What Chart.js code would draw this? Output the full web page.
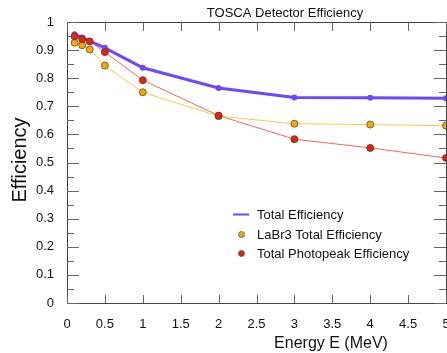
<!DOCTYPE html>
<html>
<head>
<meta charset="utf-8">
<script src="https://cdn.jsdelivr.net/npm/chart.js@4.4.1/dist/chart.umd.min.js"></script>
<style>
    html, body { margin: 0; padding: 0; background: #fff; overflow: hidden; }
    #effchart { display: block; }
</style>
</head>
<body>
<canvas id="effchart" width="447" height="353"></canvas>
<script>
"use strict";

/* data */
var energies = [0.1, 0.2, 0.3, 0.5, 1, 2, 3, 4, 5];
var totalEff = [0.956, 0.945, 0.932, 0.908, 0.837, 0.765, 0.731, 0.730, 0.729];
var labr3Eff = [0.926, 0.917, 0.902, 0.845, 0.750, 0.665, 0.638, 0.635, 0.631];
var photoEff = [0.949, 0.939, 0.931, 0.893, 0.793, 0.667, 0.583, 0.552, 0.516];
var seriesNames = ['Total Efficiency', 'LaBr3 Total Efficiency', 'Total Photopeak Efficiency'];

function toPoints(xs, ys) {
    return xs.map(function (x, i) { return { x: x, y: ys[i] }; });
}

function plainNumber(value) {
    return String(Number(value.toFixed(2)));
}

var FONT = 'Liberation Sans, Arial, sans-serif';

/* frame, inward ticks, titles and legend */
var decorations = {
    id: 'decorations',
    afterDraw: function (chart) {
        var ctx = chart.ctx;
        var a = chart.chartArea;
        var xs = chart.scales.x, ys = chart.scales.y;
        ctx.save();
        ctx.strokeStyle = '#444';
        ctx.lineWidth = 1;
        ctx.strokeRect(a.left + 0.5, a.top + 0.5, a.right - a.left, a.bottom - a.top);

        ctx.strokeStyle = '#666';
        ctx.beginPath();
        // x ticks every 0.5, bottom and top
        for (var v = 0; v <= 5.0001; v += 0.5) {
            var px = Math.round(xs.getPixelForValue(v)) + 0.5;
            ctx.moveTo(px, a.bottom); ctx.lineTo(px, a.bottom - 8);
            ctx.moveTo(px, a.top); ctx.lineTo(px, a.top + 9);
        }
        // y ticks: major 0.1, minor 0.05, left and right
        for (var k = 0; k <= 20; k++) {
            var py = Math.round(ys.getPixelForValue(k * 0.05)) + 0.5;
            var len = (k % 2 === 0) ? 12 : 7;
            ctx.moveTo(a.left, py); ctx.lineTo(a.left + len, py);
            ctx.moveTo(a.right, py); ctx.lineTo(a.right - len, py);
        }
        ctx.stroke();

        // titles
        ctx.fillStyle = '#111';
        ctx.textAlign = 'center';
        ctx.textBaseline = 'middle';
        ctx.font = '13px ' + FONT;
        ctx.fillText('TOSCA Detector Efficiency', 285, 13);
        ctx.font = '16px ' + FONT;
        ctx.fillText('Energy E (MeV)', 331, 344);
        ctx.save();
        ctx.translate(20, 160);
        ctx.rotate(-Math.PI / 2);
        ctx.font = '20px ' + FONT;
        ctx.fillText('Efficiency', 0, 0);
        ctx.restore();

        // legend
        var rows = [214, 234, 253];
        ctx.textAlign = 'left';
        ctx.font = '13px ' + FONT;
        chart.data.datasets.forEach(function (ds, i) {
            var y = rows[i];
            if (i === 0) {
                ctx.strokeStyle = ds.borderColor;
                ctx.lineWidth = 2;
                ctx.beginPath();
                ctx.moveTo(233, y + 0.5); ctx.lineTo(249, y + 0.5);
                ctx.stroke();
            } else {
                ctx.fillStyle = ds.pointBackgroundColor;
                ctx.strokeStyle = '#555';
                ctx.lineWidth = 0.8;
                ctx.beginPath();
                ctx.arc(241.5, y + 0.5, 3, 0, Math.PI * 2);
                ctx.fill(); ctx.stroke();
            }
            ctx.fillStyle = '#111';
            ctx.fillText(ds.label, 257, y + 1);
        });
        ctx.restore();
    }
};

var effchart = document.getElementById('effchart').getContext('2d');

var effchartConfig = {
    type: 'line',
    data: {
        datasets: [{
            label: seriesNames[0],
            data: toPoints(energies, totalEff),
            borderColor: 'rgba(108, 72, 255, 1)',
            backgroundColor: 'rgba(108, 72, 255, 1)',
            pointBackgroundColor: 'rgba(108, 72, 255, 1)',
            pointBorderWidth: 0,
            borderWidth: 3,
            radius: 3,
            tension: 0,
            order: 1
        }, {
            label: seriesNames[1],
            data: toPoints(energies, labr3Eff),
            borderColor: 'rgba(255, 200, 80, 1)',
            pointBackgroundColor: 'rgba(246, 168, 0, 1)',
            pointBorderColor: '#5a4a30',
            pointBorderWidth: 0.8,
            borderWidth: 1,
            radius: 3.5,
            tension: 0,
            order: 2
        }, {
            label: seriesNames[2],
            data: toPoints(energies, photoEff),
            borderColor: 'rgba(255, 100, 85, 1)',
            pointBackgroundColor: 'rgba(232, 36, 8, 1)',
            pointBorderColor: '#5a3030',
            pointBorderWidth: 0.8,
            borderWidth: 1,
            radius: 3.5,
            tension: 0,
            order: 0
        }]
    },
    options: {
        animation: false,
        responsive: false,
        layout: {
            autoPadding: false,
            padding: { top: 22, right: 1, bottom: 0, left: 0 }
        },
        plugins: {
            legend: { display: false },
            title: { display: false },
            tooltip: { enabled: false }
        },
        scales: {
            x: {
                type: 'linear',
                min: 0,
                max: 5,
                grid: { display: false },
                border: { display: false },
                ticks: {
                    stepSize: 0.5,
                    color: '#111',
                    padding: 6,
                    maxRotation: 0,
                    autoSkip: false,
                    font: { family: FONT, size: 13 },
                    callback: plainNumber
                },
                afterFit: function (scale) {
                    scale.height = 50;
                    scale.paddingLeft = 0;
                    scale.paddingRight = 0;
                }
            },
            y: {
                min: 0,
                max: 1,
                grid: { display: false },
                border: { display: false },
                ticks: {
                    stepSize: 0.1,
                    color: '#111',
                    padding: 5,
                    font: { family: FONT, size: 13 },
                    callback: plainNumber
                },
                afterFit: function (scale) {
                    scale.width = 67;
                    scale.paddingTop = 0;
                    scale.paddingBottom = 0;
                }
            }
        }
    },
    plugins: [decorations]
};
var myEffChart = new Chart(effchart, effchartConfig);
</script>
</body>
</html>
